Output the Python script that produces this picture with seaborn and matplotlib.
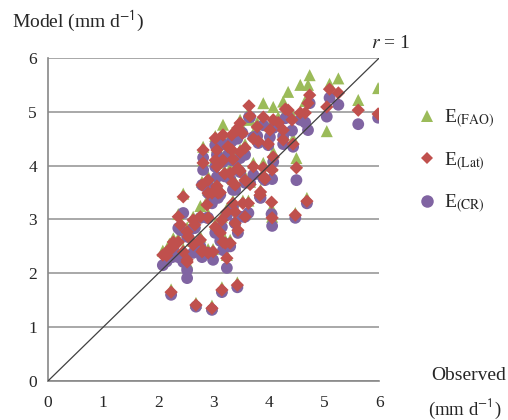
"""
Model vs observed daily evaporation: E(FAO), E(Lat), E(CR) against
observations, with the 1:1 line.
"""

import numpy as np
import pandas as pd
import matplotlib
matplotlib.use("Agg")
import matplotlib.pyplot as plt
from matplotlib.lines import Line2D
import seaborn as sns

# observed values (mm d-1) and the three model estimates for each day
obs = [5.98, 5.62, 5.26, 5.10, 5.05, 4.74, 4.71, 4.57, 4.35, 4.66,
       4.26, 4.08, 3.90, 3.64, 4.42, 4.17, 3.79, 4.02, 4.26, 4.44,
       3.72, 3.52, 3.48, 3.43, 3.44, 3.33, 3.17, 3.03, 3.06, 2.81,
       3.81, 3.99, 4.50, 4.08, 3.90, 3.72, 3.48, 3.57, 3.33, 3.26,
       3.17, 3.35, 3.44, 2.81, 3.03, 3.06, 2.90, 2.79, 2.90, 3.12,
       3.30, 3.39, 3.48, 3.57, 3.90, 4.06, 3.93, 4.05, 4.06, 4.48,
       4.69, 3.85, 3.63, 3.35, 3.24, 3.39, 2.45, 2.36, 2.63, 2.76,
       2.88, 3.15, 3.03, 2.97, 3.08, 3.35, 3.53, 2.52, 2.27, 2.08,
       2.25, 2.36, 2.45, 2.52, 2.52, 2.79, 2.63, 2.99, 2.81, 2.90,
       3.17, 3.24, 3.30, 3.44, 3.12, 3.21, 3.39, 2.54, 2.23, 3.15,
       3.43, 2.68, 2.97, 2.76, 2.66, 2.90, 3.57, 3.66, 3.84, 2.15,
       2.20, 2.40, 3.06, 3.20, 3.66, 4.30]
e_fao = [5.44, 5.22, 5.62, 5.52, 4.64, 5.68, 5.50, 5.50, 5.37, 5.20,
         5.19, 5.09, 5.16, 5.00, 4.95, 4.90, 4.80, 4.75, 4.60, 4.50,
         4.60, 4.70, 4.85, 4.70, 4.75, 4.60, 4.76, 4.55, 4.35, 4.35,
         4.50, 4.45, 4.14, 4.25, 4.05, 4.05, 4.30, 4.40, 4.35, 4.40,
         4.15, 4.20, 4.00, 4.10, 4.15, 4.05, 3.80, 3.70, 3.55, 3.55,
         3.95, 3.70, 3.95, 3.80, 3.85, 4.00, 3.80, 3.21, 3.05, 3.12,
         3.40, 3.55, 3.35, 3.35, 3.20, 3.00, 3.48, 3.10, 3.05, 3.25,
         3.35, 3.05, 2.92, 3.55, 3.55, 3.75, 3.35, 2.85, 2.65, 2.42,
         2.55, 2.65, 2.45, 2.20, 2.30, 2.45, 2.60, 2.45, 2.50, 2.45,
         2.65, 2.34, 2.62, 2.85, 2.82, 2.62, 3.20, 2.75, 1.70, 1.74,
         1.83, 1.45, 1.40, 2.68, 2.95, 3.10, 3.10, 3.70, 3.50, 2.40,
         2.55, 2.95, 3.70, 3.90, 4.85, 5.00]
e_lat = [4.96, 5.03, 5.35, 5.42, 5.09, 5.31, 5.16, 4.98, 5.03, 4.98,
         4.66, 4.85, 4.90, 5.11, 4.85, 4.80, 4.72, 4.66, 4.48, 4.40,
         4.50, 4.60, 4.79, 4.66, 4.70, 4.57, 4.57, 4.51, 4.29, 4.29,
         4.45, 4.40, 3.96, 4.16, 3.96, 3.98, 4.25, 4.33, 4.29, 4.35,
         4.10, 4.12, 3.95, 4.05, 4.10, 3.98, 3.73, 3.64, 3.49, 3.50,
         3.86, 3.64, 3.90, 3.73, 3.80, 3.92, 3.75, 3.32, 3.03, 3.08,
         3.34, 3.51, 3.30, 3.30, 3.14, 2.93, 3.42, 3.05, 2.99, 3.05,
         3.27, 2.99, 2.86, 3.49, 3.49, 3.68, 3.30, 2.77, 2.58, 2.34,
         2.47, 2.58, 2.40, 2.25, 2.21, 2.40, 2.53, 2.40, 2.43, 2.38,
         2.58, 2.28, 2.56, 2.80, 2.75, 2.56, 3.14, 2.68, 1.65, 1.69,
         1.78, 1.41, 1.35, 2.62, 2.90, 3.03, 3.05, 3.65, 3.45, 2.33,
         2.45, 2.90, 3.62, 3.85, 4.92, 5.05]
e_cr = [4.89, 4.77, 5.13, 5.26, 4.91, 5.16, 4.66, 4.85, 4.90, 4.80,
        4.55, 4.70, 4.75, 4.90, 4.65, 4.79, 4.55, 4.53, 4.40, 4.35,
        4.53, 4.61, 4.60, 4.50, 4.55, 4.45, 4.40, 4.38, 4.20, 4.15,
        4.42, 4.38, 3.73, 4.07, 3.77, 3.83, 4.14, 4.20, 4.10, 4.20,
        4.07, 4.10, 3.92, 3.92, 3.98, 3.79, 3.64, 3.64, 3.49, 3.46,
        3.75, 3.55, 3.88, 3.68, 3.77, 3.75, 3.73, 3.10, 2.88, 3.03,
        3.30, 3.40, 3.12, 3.23, 3.08, 2.93, 3.12, 2.84, 2.84, 3.03,
        3.03, 2.86, 2.75, 3.30, 3.40, 3.55, 3.05, 2.68, 2.47, 2.15,
        2.30, 2.30, 2.21, 1.91, 2.06, 2.30, 2.38, 2.25, 2.34, 2.38,
        2.43, 2.10, 2.50, 2.75, 2.60, 2.55, 2.93, 2.68, 1.60, 1.65,
        1.74, 1.38, 1.32, 2.50, 2.84, 3.03, 3.05, 3.68, 3.42, 2.22,
        2.35, 2.80, 3.55, 3.80, 4.90, 4.88]

series_names = ["E(FAO)", "E(Lat)", "E(CR)"]
series_labels = [r"E$_{\mathrm{(FAO)}}$", r"E$_{\mathrm{(Lat)}}$",
                 r"E$_{\mathrm{(CR)}}$"]
series_colors = ["#9BBB59", "#C0504D", "#8064A2"]
series_markers = ["^", "D", "o"]
ticks = [0, 1, 2, 3, 4, 5, 6]

df = pd.DataFrame({
    "obs": obs * 3,
    "model": e_fao + e_lat + e_cr,
    "series": [s for s, v in zip(series_names, [e_fao, e_lat, e_cr])
               for _ in v],
})

sns.set_theme(style="white")
plt.rcParams["font.family"] = ["Liberation Serif", "DejaVu Serif"]
plt.rcParams["mathtext.fontset"] = "stix"

fig = plt.figure(figsize=(5.08, 4.2), dpi=100)
ax = fig.add_axes([0.0945, 0.093, 0.652, 0.769])

# Excel drew FAO first, then CR, with Lat on top
sizes = {"E(FAO)": 75, "E(Lat)": 46, "E(CR)": 72}
for z, name in enumerate(["E(FAO)", "E(CR)", "E(Lat)"]):
    i = series_names.index(name)
    sns.scatterplot(data=df[df["series"] == name], x="obs", y="model",
                    color=series_colors[i], marker=series_markers[i],
                    s=sizes[name], edgecolor="none", linewidth=0,
                    ax=ax, legend=False, zorder=3 + z)

# 1:1 line
ax.plot([0, 6], [0, 6], color="#404040", lw=0.9, zorder=10)
ax.text(6.2, 6.12, r"$r$ = 1", fontsize=14, ha="center", va="bottom")

ax.set_xlim(0, 6)
ax.set_ylim(0, 6)
ax.set_xticks(ticks)
ax.set_yticks(ticks)
ax.tick_params(axis="both", labelsize=12.5, length=4, width=1,
               color="#888888", direction="out", pad=4)
ax.tick_params(axis="x", pad=6)
ax.yaxis.grid(True, color="#9a9a9a", lw=1.2)
ax.set_axisbelow(True)
for side in ["top", "right"]:
    ax.spines[side].set_visible(False)
for side in ["left", "bottom"]:
    ax.spines[side].set_color("#888888")
    ax.spines[side].set_linewidth(1.2)
ax.set_xlabel("")
ax.set_ylabel("")

fig.text(0.024, 0.95, r"Model (mm d$^{\mathsf{-1}}$)", fontsize=14,
         ha="left", va="center")
fig.text(0.848, 0.105, "Observed", fontsize=14, ha="left", va="center")
fig.text(0.842, 0.012, r"(mm d$^{\mathsf{-1}}$)", fontsize=13.5,
         ha="left", va="baseline")

handles = [Line2D([], [], linestyle="none", marker=series_markers[i],
                  markersize=[9, 6.5, 9][i], color=series_colors[i],
                  markeredgewidth=0, label=series_labels[i])
           for i in range(3)]
ax.legend(handles=handles, loc="upper left", bbox_to_anchor=(1.09, 0.87),
          frameon=False, fontsize=14, handlelength=1.0, handletextpad=0.4,
          labelspacing=1.05, borderaxespad=0)

fig.savefig("out.png", dpi=100)
